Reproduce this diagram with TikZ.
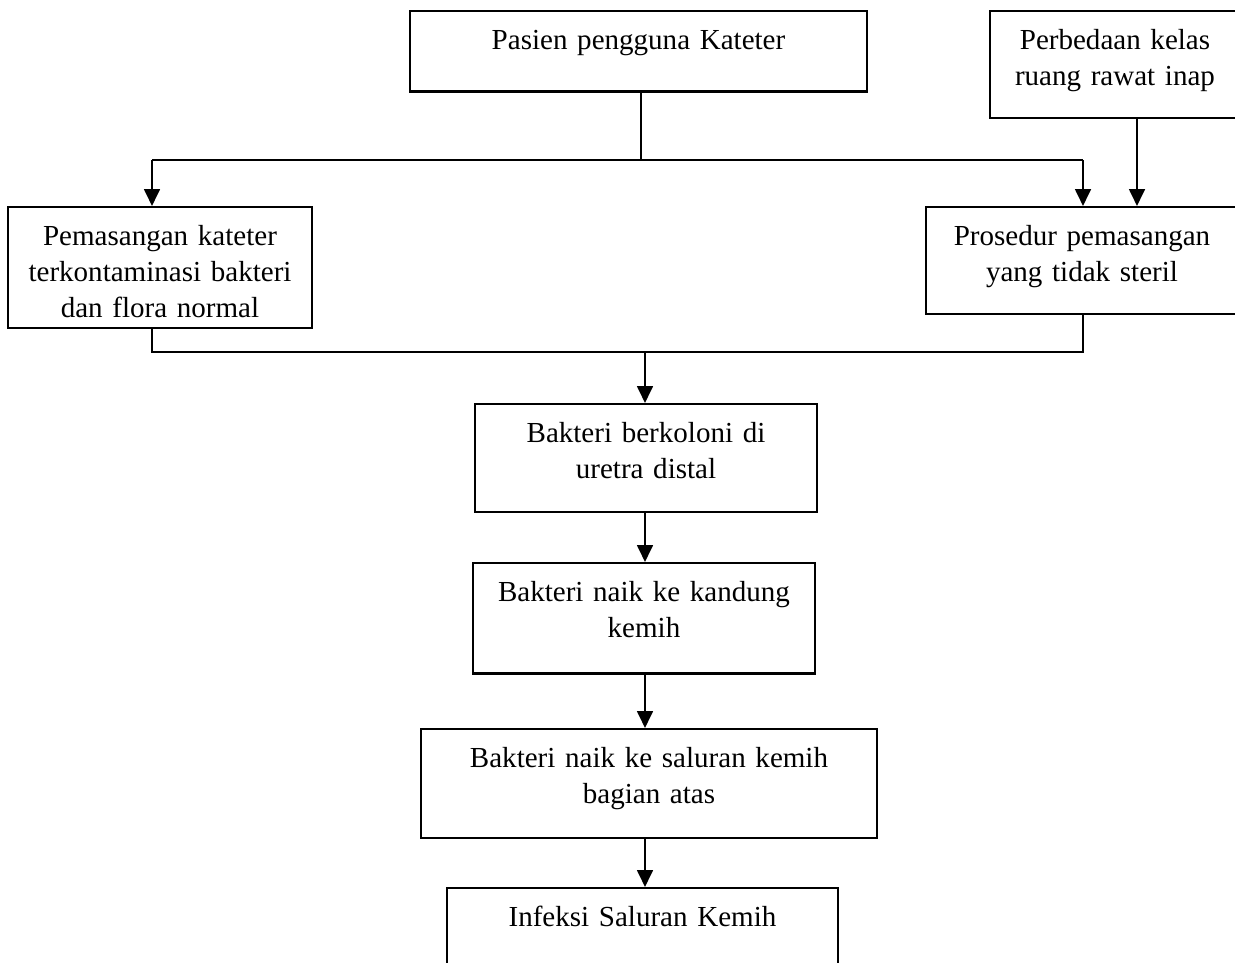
\documentclass[tikz,border=0pt]{standalone}
\usepackage{fontspec}
\setmainfont{Liberation Serif}
\usetikzlibrary{arrows.meta}

\begin{document}
\begin{tikzpicture}[x=0.4132pt,y=-0.4132pt]
  \tikzstyle{box}=[draw,line width=1pt,anchor=north,inner sep=0pt,align=center,text height=15.7pt,font=\fontsize{12}{15}\selectfont]
  \tikzstyle{arr}=[line width=1pt,-{Triangle[width=6.5pt,length=7pt]}]
  \tikzstyle{garis}=[line width=1pt]
  \useasboundingbox (0,0) rectangle (1235,962);
  \clip (0,0) rectangle (1235,962);
  \node[box,text width=188.8pt,text depth=17.4pt] (pasien) at (638.5,10) {Pasien pengguna Kateter};
  \node[box,text width=103.3pt,text depth=28.5pt] (kelas) at (1115,10) {Perbedaan kelas\\ruang rawat inap};
  \node[box,text width=125.6pt,text depth=34.3pt] (pemasangan) at (160,206) {Pemasangan kateter\\terkontaminasi bakteri\\dan flora normal};
  \node[box,text width=128.9pt,text depth=28.5pt] (prosedur) at (1082,206) {Prosedur pemasangan\\yang tidak steril};
  \node[box,text width=141.3pt,text depth=28.9pt] (koloni) at (646,403) {Bakteri berkoloni di\\uretra distal};
  \node[box,text width=141.3pt,text depth=29.8pt] (kandung) at (644,562) {Bakteri naik ke kandung\\kemih};
  \node[box,text width=188.4pt,text depth=29.3pt] (atas) at (649,728) {Bakteri naik ke saluran kemih\\bagian atas};
  \node[box,text width=161.6pt,text depth=29.8pt] (isk) at (642.5,887) {Infeksi Saluran Kemih};
  % percabangan atas
  \coordinate (pc) at (641,160);
  \coordinate (pl) at (152,160);
  \coordinate (pr) at (1083,160);
  \draw[garis] (pasien.south -| pc) -- (pc);
  \draw[garis] (pl) -- (pr);
  \draw[arr] (pl) -- (pl |- pemasangan.north);
  \draw[arr] (pr) -- (pr |- prosedur.north);
  \draw[arr] (kelas.south -| 1137,0) -- (1137,0 |- prosedur.north);
  % penggabungan bawah
  \coordinate (ml) at (152,352);
  \coordinate (mr) at (1083,352);
  \coordinate (mc) at (645,352);
  \draw[garis] (pemasangan.south -| ml) -- (ml) -- (mr) -- (prosedur.south -| mr);
  \draw[arr] (mc) -- (mc |- koloni.north);
  \foreach \a/\b in {koloni/kandung,kandung/atas,atas/isk}
    \draw[arr] (\a.south -| mc) -- (\b.north -| mc);
\end{tikzpicture}
\end{document}
